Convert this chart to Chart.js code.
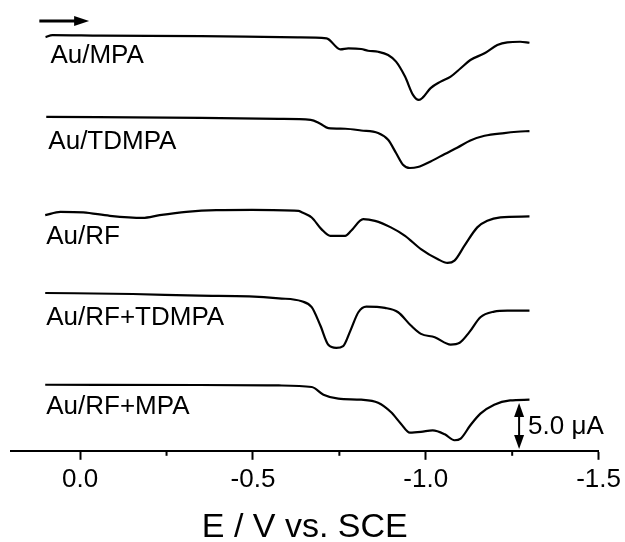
<!DOCTYPE html>
<html lang="en">
<head>
    <meta charset="UTF-8">
    <title>Voltammogrammes Au/RF</title>
    <script src="https://cdn.jsdelivr.net/npm/chart.js"></script>
    <style>
        html, body { margin: 0; padding: 0; background: #fff; }
    </style>
</head>
<body>
    <canvas id="cvChart" width="625" height="542"></canvas>

    <script>
        // trace names, top to bottom
        const names = ['Au/MPA', 'Au/TDMPA', 'Au/RF', 'Au/RF+TDMPA', 'Au/RF+MPA'];
        // vertical shift of each trace (uA)
        const offsets = [45.2, 36.4, 25.9, 17.2, 7.2];
        // where the name labels sit (E in V, level in uA)
        const labelE = [0.086, 0.092, 0.098, 0.098, 0.098];
        const labelY = [43.0, 33.7, 23.3, 14.5, 4.8];

        // potentials (V vs SCE) and currents (uA, relative to the trace start)
        const eMPA = [0.10, 0.08, -0.06, -0.35, -0.63, -0.713, -0.753, -0.776, -0.813, -0.833, -0.862, -0.891, -0.914, -0.94, -0.963, -0.98, -0.991, -1.014, -1.043, -1.072, -1.101, -1.129, -1.17, -1.207, -1.236, -1.273, -1.30];
        const iMPA = [-0.11, 0.11, 0.05, 0, -0.14, -0.25, -1.45, -1.34, -1.41, -1.6, -1.71, -2.07, -2.79, -4.42, -6.41, -6.96, -6.71, -5.68, -4.97, -4.42, -3.51, -2.61, -1.88, -0.98, -0.68, -0.62, -0.73];

        const eTDMPA = [0.098, -0.35, -0.575, -0.667, -0.695, -0.718, -0.767, -0.813, -0.862, -0.891, -0.914, -0.934, -0.954, -0.977, -1.014, -1.055, -1.092, -1.129, -1.17, -1.227, -1.264, -1.30];
        const iTDMPA = [0, -0.11, -0.22, -0.33, -0.76, -1.23, -1.30, -1.49, -1.77, -2.5, -3.95, -5.22, -5.58, -5.47, -4.86, -4.05, -3.34, -2.58, -2.07, -1.77, -1.63, -1.55];

        const eRF = [0.101, 0.057, -0.009, -0.086, -0.181, -0.23, -0.307, -0.394, -0.497, -0.632, -0.641, -0.67, -0.698, -0.724, -0.767, -0.784, -0.819, -0.853, -0.899, -0.94, -0.986, -1.034, -1.063, -1.083, -1.112, -1.149, -1.178, -1.216, -1.30];
        const iRF = [-0.22, 0.14, 0.08, -0.29, -0.51, -0.22, 0.14, 0.33, 0.36, 0.25, 0.1, -0.47, -1.74, -2.47, -2.47, -1.92, -0.65, -0.84, -1.55, -2.47, -3.91, -5.0, -5.43, -5.18, -3.55, -1.55, -0.84, -0.47, -0.36];

        const eRFTD = [0.101, -0.152, -0.345, -0.489, -0.575, -0.641, -0.67, -0.695, -0.718, -0.741, -0.761, -0.782, -0.805, -0.828, -0.882, -0.92, -0.957, -0.986, -1.026, -1.072, -1.098, -1.126, -1.158, -1.198, -1.236, -1.30];
        const iRFTD = [0, -0.11, -0.29, -0.36, -0.58, -0.9, -1.55, -3.55, -5.65, -5.98, -5.79, -4.1, -2.1, -1.49, -1.63, -2.1, -3.55, -4.46, -4.82, -5.62, -5.43, -4.27, -2.64, -2.03, -1.92, -1.92];

        const eRFM = [0.101, -0.345, -0.575, -0.67, -0.704, -0.747, -0.813, -0.862, -0.899, -0.928, -0.954, -0.986, -1.02, -1.055, -1.083, -1.101, -1.129, -1.158, -1.198, -1.244, -1.30];
        const iRFM = [0, -0.03, -0.08, -0.25, -1.09, -1.52, -1.63, -1.96, -2.97, -4.24, -5.22, -5.14, -4.97, -5.4, -6.05, -5.87, -4.42, -3.15, -2.17, -1.71, -1.63];

        const xTicksMinor = [-0.25, -0.75, -1.25];
        const scaleBar = { e: -1.27, from: 0.2, to: 5.2, text: '5.0 \u03bcA' };
        const sweepArrow = { from: 0.118, to: -0.026, y: 46.85 };

        const FONT = "'Liberation Sans', Arial, Helvetica, sans-serif";

        const potentials = [eMPA, eTDMPA, eRF, eRFTD, eRFM];
        const currents = [iMPA, iTDMPA, iRF, iRFTD, iRFM];

        const datasets = names.map((name, k) => ({
            label: name,
            data: potentials[k].map((e, j) => ({ x: e, y: currents[k][j] + offsets[k] })),
            borderColor: '#000',
            borderWidth: 2.2,
            pointRadius: 0,
            fill: false,
            cubicInterpolationMode: 'monotone'
        }));

        // names, sweep arrow, scale bar and minor ticks
        const extras = {
            id: 'extras',
            afterDraw(chart) {
                const ctx = chart.ctx;
                const xs = chart.scales.x;
                const ys = chart.scales.y;
                const area = chart.chartArea;
                ctx.save();
                ctx.fillStyle = '#000';
                ctx.strokeStyle = '#000';

                // minor ticks
                ctx.lineWidth = 2;
                xTicksMinor.forEach(v => {
                    const px = xs.getPixelForValue(v);
                    ctx.beginPath();
                    ctx.moveTo(px, area.bottom);
                    ctx.lineTo(px, area.bottom + 5);
                    ctx.stroke();
                });

                // trace names
                ctx.font = '26px ' + FONT;
                ctx.textAlign = 'left';
                ctx.textBaseline = 'middle';
                names.forEach((n, k) => {
                    ctx.fillText(n, xs.getPixelForValue(labelE[k]), ys.getPixelForValue(labelY[k]));
                });

                // sweep direction arrow
                const ax0 = xs.getPixelForValue(sweepArrow.from);
                const ax1 = xs.getPixelForValue(sweepArrow.to);
                const ay = ys.getPixelForValue(sweepArrow.y);
                ctx.lineWidth = 3;
                ctx.beginPath();
                ctx.moveTo(ax0, ay);
                ctx.lineTo(ax1 - 12, ay);
                ctx.stroke();
                ctx.beginPath();
                ctx.moveTo(ax1, ay);
                ctx.lineTo(ax1 - 15, ay - 5);
                ctx.lineTo(ax1 - 15, ay + 5);
                ctx.closePath();
                ctx.fill();

                // 5 uA scale bar
                const bx = xs.getPixelForValue(scaleBar.e);
                const by0 = ys.getPixelForValue(scaleBar.to);
                const by1 = ys.getPixelForValue(scaleBar.from);
                ctx.lineWidth = 2;
                ctx.beginPath();
                ctx.moveTo(bx, by0 + 10);
                ctx.lineTo(bx, by1 - 10);
                ctx.stroke();
                ctx.beginPath();
                ctx.moveTo(bx, by0);
                ctx.lineTo(bx - 5, by0 + 14);
                ctx.lineTo(bx + 5, by0 + 14);
                ctx.closePath();
                ctx.fill();
                ctx.beginPath();
                ctx.moveTo(bx, by1);
                ctx.lineTo(bx - 5, by1 - 14);
                ctx.lineTo(bx + 5, by1 - 14);
                ctx.closePath();
                ctx.fill();
                ctx.fillText(scaleBar.text, bx + 9, (by0 + by1) / 2 + 1);

                ctx.restore();
            }
        };

        new Chart(document.getElementById('cvChart').getContext('2d'), {
            type: 'line',
            data: { datasets: datasets },
            options: {
                responsive: false,
                animation: false,
                layout: { padding: { left: 11, right: 22, top: 0, bottom: -3 } },
                plugins: {
                    legend: { display: false },
                    tooltip: { enabled: false }
                },
                scales: {
                    x: {
                        type: 'linear',
                        reverse: true,
                        min: -1.5,
                        max: 0.2,
                        ticks: {
                            stepSize: 0.5,
                            includeBounds: false,
                            maxRotation: 0,
                            padding: 4,
                            color: '#000',
                            font: { family: FONT, size: 26 },
                            callback: v => v.toFixed(1)
                        },
                        grid: {
                            drawOnChartArea: false,
                            drawTicks: true,
                            tickLength: 9,
                            tickWidth: 2,
                            tickColor: '#000'
                        },
                        border: { display: true, color: '#000', width: 2 },
                        title: {
                            display: true,
                            text: 'E / V vs. SCE',
                            color: '#000',
                            font: { family: FONT, size: 34, lineHeight: 1 },
                            padding: { top: 12, bottom: 0 }
                        }
                    },
                    y: {
                        type: 'linear',
                        display: false,
                        min: 0,
                        max: 49.13
                    }
                }
            },
            plugins: [extras]
        });
    </script>
</body>
</html>
